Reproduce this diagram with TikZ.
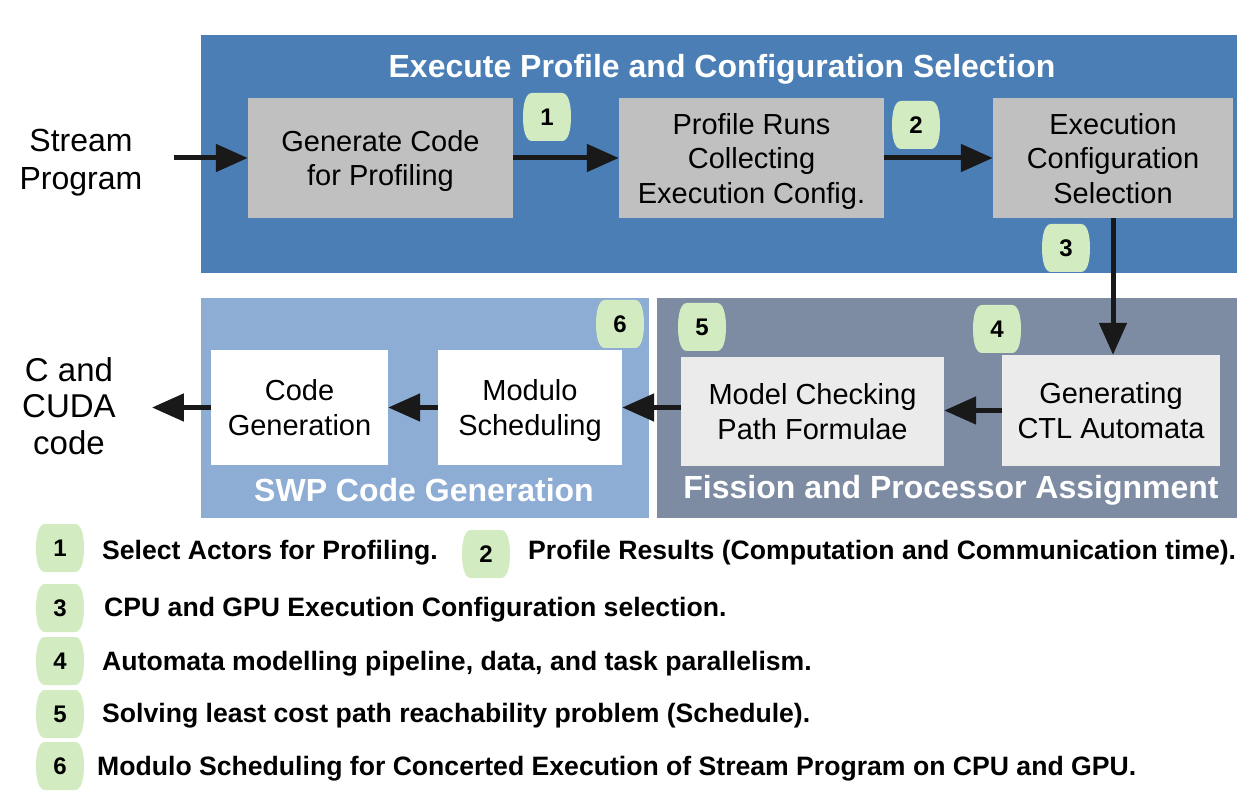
\documentclass[tikz,border=0pt]{standalone}
\usepackage{fontspec}
\setmainfont{Liberation Sans}
\usetikzlibrary{arrows.meta}

\definecolor{topblue}{RGB}{74,126,181}
\definecolor{swpblue}{RGB}{142,173,213}
\definecolor{fisgray}{RGB}{125,139,163}
\definecolor{boxgray}{RGB}{192,192,192}
\definecolor{boxlight}{RGB}{235,235,235}
\definecolor{badgegreen}{RGB}{211,235,192}
\definecolor{arrowblack}{RGB}{25,25,25}

% numbered barrel-shaped badge: name, x, y, number
\newcommand\badge[4]{%
  \fill[badgegreen, shift={(#2,#3)}]
    (-15,-24) -- (15,-24) .. controls (21,-24) and (24,-14) .. (24,0)
    .. controls (24,14) and (21,24) .. (15,24) -- (-15,24)
    .. controls (-21,24) and (-24,14) .. (-24,0)
    .. controls (-24,-14) and (-21,-24) .. (-15,-24) -- cycle;
  \node[badgetext] (#1) at (#2,#3) {#4};
}

\tikzset{
  stagebox/.style={inner sep=0pt, align=center, text depth=0pt,
    font=\fontsize{29}{34.5}\selectfont},
  paneltitle/.style={text=white, font=\fontsize{32}{37}\bfseries\selectfont},
  badgetext/.style={inner sep=0pt, font=\fontsize{24}{28}\bfseries\selectfont},
  legendtext/.style={inner sep=0pt, anchor=west, text depth=0pt,
    font=\fontsize{26.6}{31}\bfseries\selectfont},
  endtext/.style={inner sep=0pt, align=center, text depth=0pt},
  arr/.style={draw=arrowblack, line width=5pt,
    -{Triangle[length=32pt,width=27pt]}},
}

\begin{document}
\begin{tikzpicture}[x=1pt,y=-1pt]
\useasboundingbox (0,0) rectangle (1237,791);

% panels
\fill[topblue] (201,35) rectangle (1237,273);
\fill[swpblue] (201,298) rectangle (649,518);
\fill[fisgray] (657,298) rectangle (1237,518);

\node[paneltitle] (ttop) at (722,69) {Execute Profile and Configuration Selection};
\node[paneltitle] (tswp) at (424,490) {SWP Code Generation};
\node[paneltitle] (tfis) at (951,490) {Fission and Processor Assignment};

% top row stages
\node[stagebox, fill=boxgray, minimum width=265pt, minimum height=120pt] (gen) at (380.5,158) {Generate Code\\for Profiling};
\node[stagebox, fill=boxgray, minimum width=265pt, minimum height=120pt] (prof) at (751.5,158) {Profile Runs\\Collecting\\Execution Config.};
\node[stagebox, fill=boxgray, minimum width=240pt, minimum height=120pt] (sel) at (1113,158) {Execution\\Configuration\\Selection};

% bottom row stages
\node[stagebox, fill=white, minimum width=177pt, minimum height=115pt] (cg) at (299.5,407.5) {Code\\Generation};
\node[stagebox, fill=white, minimum width=184pt, minimum height=115pt] (mod) at (530,407.5) {Modulo\\Scheduling};
\node[stagebox, fill=boxlight, minimum width=263pt, minimum height=109pt] (mc) at (812.5,411.5) {Model Checking\\Path Formulae};
\node[stagebox, fill=boxlight, minimum width=218pt, minimum height=111pt] (ctl) at (1111,410.5) {Generating\\CTL Automata};

% input and output
\node[endtext, font=\fontsize{32}{38}\selectfont] (stream) at (81,159) {Stream\\Program};
\node[endtext, font=\fontsize{33}{36.5}\selectfont] (cuda) at (69,406) {C and\\CUDA\\code};

% flow
\draw[arr, shorten <=31pt] (stream.east |- gen.west) -- (gen.west);
\draw[arr] (gen.east) -- (prof.west);
\draw[arr] (prof.east) -- (sel.west);
\draw[arr] (sel.south) -- (sel.south |- ctl.north);
\draw[arr] (ctl.west) -- (ctl.west -| mc.east);
\draw[arr] (mc.west |- mod.east) -- (mod.east);
\draw[arr] (mod.west) -- (cg.east);
\draw[arr, shorten >=36pt] (cg.west) -- (cuda.east |- cg.west);

% step badges
\badge{b1}{547}{117}{1}
\badge{b2}{916}{125}{2}
\badge{b3}{1066}{248}{3}
\badge{b4}{997}{329}{4}
\badge{b5}{702}{327}{5}
\badge{b6}{620}{324}{6}

% legend
\badge{l1}{60}{548}{1}
\node[legendtext] (t1) at (102,550) {Select Actors for Profiling.};
\badge{l2}{486}{554}{2}
\node[legendtext] (t2) at (528,550) {Profile Results (Computation and Communication time).};
\badge{l3}{60}{608}{3}
\node[legendtext] (t3) at (104,607) {CPU and GPU Execution Configuration selection.};
\badge{l4}{60}{661}{4}
\node[legendtext] (t4) at (102,661) {Automata modelling pipeline, data, and task parallelism.};
\badge{l5}{60}{714}{5}
\node[legendtext] (t5) at (102,713) {Solving least cost path reachability problem (Schedule).};
\badge{l6}{60}{766}{6}
\node[legendtext] (t6) at (97,766) {Modulo Scheduling for Concerted Execution of Stream Program on CPU and GPU.};
\end{tikzpicture}
\end{document}
